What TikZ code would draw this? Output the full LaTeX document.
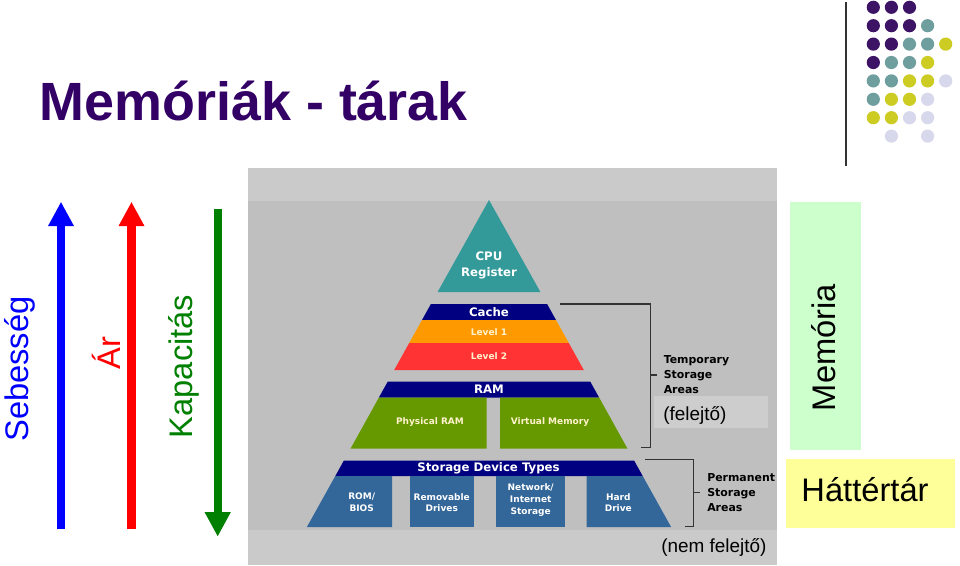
\documentclass[tikz,border=0pt]{standalone}
\usepackage{fontspec}
\setmainfont{Liberation Sans}
\newfontfamily\pyrfont{DejaVu Sans}
\usetikzlibrary{arrows.meta}
\definecolor{titlepurple}{HTML}{330066}
\definecolor{dP}{HTML}{3D1366}
\definecolor{dT}{HTML}{6F9E9E}
\definecolor{dY}{HTML}{CCCC22}
\definecolor{dL}{HTML}{D8D8EC}
\definecolor{panel}{HTML}{BFBFBF}
\definecolor{panellight}{HTML}{CACACA}
\definecolor{boxlight}{HTML}{CDCDCD}
\definecolor{pteal}{HTML}{339999}
\definecolor{pnavy}{HTML}{000080}
\definecolor{porange}{HTML}{FF9900}
\definecolor{pred}{HTML}{FF3333}
\definecolor{pgreen}{HTML}{669900}
\definecolor{pblue}{HTML}{336699}
\definecolor{cream}{HTML}{FFF2CC}
\definecolor{arrgreen}{HTML}{008000}
\definecolor{memgreen}{HTML}{CCFFCC}
\definecolor{hatyellow}{HTML}{FFFF99}
\definecolor{bracketgray}{HTML}{333333}
\tikzset{
  bigarrow/.style={line width=6.2pt,-{Triangle[width=18.2pt,length=18.4pt]}},
  biglabel/.style={inner sep=0pt,font=\fontsize{24.5}{28}\selectfont},
  pbig/.style={inner sep=0pt,text=white,font=\pyrfont\bfseries\fontsize{8.8}{11.4}\selectfont,align=center},
  psmall/.style={inner sep=0pt,text=cream,font=\pyrfont\bfseries\fontsize{6.75}{8.7}\selectfont,align=center},
  pbox/.style={inner sep=0pt,text=white,font=\pyrfont\bfseries\fontsize{6.75}{8.7}\selectfont,align=center},
  brlabel/.style={inner sep=0pt,text=black,font=\pyrfont\bfseries\fontsize{8.2}{11.25}\selectfont,align=left},
  bracket/.style={draw=bracketgray,line width=1.1pt},
  notelabel/.style={inner sep=0pt,font=\fontsize{14.2}{17}\selectfont}
}
\begin{document}
\begin{tikzpicture}[x=0.75pt,y=-0.75pt]
\useasboundingbox (0,0) rectangle (960,565);
\fill[white] (0,0) rectangle (960,565);

% title
\node[anchor=base west,inner sep=0pt,text=titlepurple,font=\fontsize{40.4}{48}\selectfont\bfseries] (title) at (39.5,120) {Memóriák - tárak};

% top right decoration
\coordinate (vl1) at (846,2);
\coordinate (vl2) at (846,166);
\draw[line width=1.5pt,color=bracketgray] (vl1) -- (vl2);
\foreach \c/\r/\col in {0/0/dP,1/0/dP,2/0/dP,
  0/1/dP,1/1/dP,2/1/dP,3/1/dT,
  0/2/dP,1/2/dP,2/2/dT,3/2/dT,4/2/dY,
  0/3/dP,1/3/dT,2/3/dT,3/3/dY,
  0/4/dT,1/4/dT,2/4/dY,3/4/dY,4/4/dL,
  0/5/dT,1/5/dY,2/5/dY,3/5/dL,
  0/6/dY,1/6/dY,2/6/dL,3/6/dL,
  1/7/dL,3/7/dL}
  \fill[\col] ({873.3+18.1*\c},{7.3+18.4*\r}) circle[radius=6.6];

% arrows
\coordinate (b1) at (61,529.3);
\coordinate (b2) at (61,201.7);
\coordinate (r1) at (131.5,529.3);
\coordinate (r2) at (131.5,201.7);
\coordinate (g1) at (217.7,209);
\coordinate (g2) at (217.7,536.7);
\draw[bigarrow,color=blue] (b1) -- (b2);
\draw[bigarrow,color=red] (r1) -- (r2);
\draw[bigarrow,color=arrgreen] (g1) -- (g2);
\node[biglabel,rotate=90,anchor=base,text=blue] (seb) at (28.5,369) {Sebesség};
\node[biglabel,rotate=90,anchor=base,text=red] (ar) at (120,353) {Ár};
\node[biglabel,rotate=90,anchor=base,text=arrgreen] (kap) at (192,366.5) {Kapacitás};

% gray panel
\fill[panel] (248,168) rectangle (777,565);
\fill[panellight] (248,168) rectangle (777,201);
\fill[panellight] (248,530) rectangle (777,565);
\fill[boxlight] (654,396) rectangle (768,428);

% pyramid
\fill[pteal] (489,200) -- (540.4,292) -- (437.6,292) -- cycle;
\fill[pnavy] (430.9,304) -- (547.1,304) -- (556,320) -- (422,320) -- cycle;
\fill[porange] (422,320) -- (556,320) -- (568.8,343) -- (409.2,343) -- cycle;
\fill[pred] (409.2,343) -- (568.8,343) -- (583.8,370) -- (394.2,370) -- cycle;
\fill[pnavy] (387.8,381.5) -- (590.2,381.5) -- (599.1,397.5) -- (378.9,397.5) -- cycle;
\fill[pgreen] (378.9,397.5) -- (486.5,397.5) -- (486.5,448.5) -- (350.6,448.5) -- cycle;
\fill[pgreen] (500,397.5) -- (599.1,397.5) -- (627.4,448.5) -- (500,448.5) -- cycle;
\fill[pnavy] (343.9,460.5) -- (634.1,460.5) -- (642.7,476) -- (335.3,476) -- cycle;
\fill[pblue] (335.3,476) -- (392,476) -- (392,527) -- (306.9,527) -- cycle;
\fill[pblue] (410,476) rectangle (474,527);
\fill[pblue] (496,476) rectangle (565,527);
\fill[pblue] (586.7,476) -- (642.7,476) -- (671.1,527) -- (586.7,527) -- cycle;

\node[pbig] (cpu) at (489,265.5) {CPU\\Register};
\node[pbig] (cache) at (489,312) {Cache};
\node[psmall] (l1) at (489,332) {Level 1};
\node[psmall] (l2) at (489,356) {Level 2};
\node[pbig] (ram) at (489,389.5) {RAM};
\node[psmall] (phys) at (430,422) {Physical RAM};
\node[psmall] (virt) at (550,422) {Virtual Memory};
\node[pbig] (sdt) at (488.5,468) {Storage Device Types};
\node[pbox] (rom) at (361.7,502.5) {ROM/\\BIOS};
\node[pbox] (remov) at (441.7,502.5) {Removable\\Drives};
\node[pbox] (net) at (530.7,500) {Network/\\Internet\\Storage};
\node[pbox] (hard) at (618.3,502.5) {Hard\\Drive};

% brackets
\coordinate (t1) at (560,304);
\coordinate (t2) at (650.5,304);
\coordinate (t3) at (650.5,447.5);
\coordinate (t4) at (641,447.5);
\coordinate (t5) at (650.5,375);
\coordinate (t6) at (657,375);
\draw[bracket] (t1) -- (t2) -- (t3) -- (t4);
\draw[bracket] (t5) -- (t6);
\coordinate (p1) at (645,459.3);
\coordinate (p2) at (693.5,459.3);
\coordinate (p3) at (693.5,526.7);
\coordinate (p4) at (685,526.7);
\coordinate (p5) at (693.5,492.5);
\coordinate (p6) at (700,492.5);
\draw[bracket] (p1) -- (p2) -- (p3) -- (p4);
\draw[bracket] (p5) -- (p6);
\node[brlabel,anchor=west] (temp) at (663.5,375) {Temporary\\Storage\\Areas};
\node[brlabel,anchor=west] (perm) at (707,493) {Permanent\\Storage\\Areas};

\node[notelabel,anchor=base west] (fel) at (663,420) {(felejtő)};
\node[notelabel,anchor=base west] (nemfel) at (661,552) {(nem felejtő)};

% right boxes
\fill[memgreen] (790,201.5) rectangle (860.5,450);
\fill[hatyellow] (786,459.3) rectangle (955,528.3);
\node[biglabel,rotate=90,anchor=base,text=black] (mem) at (835.5,347.5) {Memória};
\node[biglabel,anchor=base,text=black] (hat) at (865,501.7) {Háttértár};
\end{tikzpicture}
\end{document}
